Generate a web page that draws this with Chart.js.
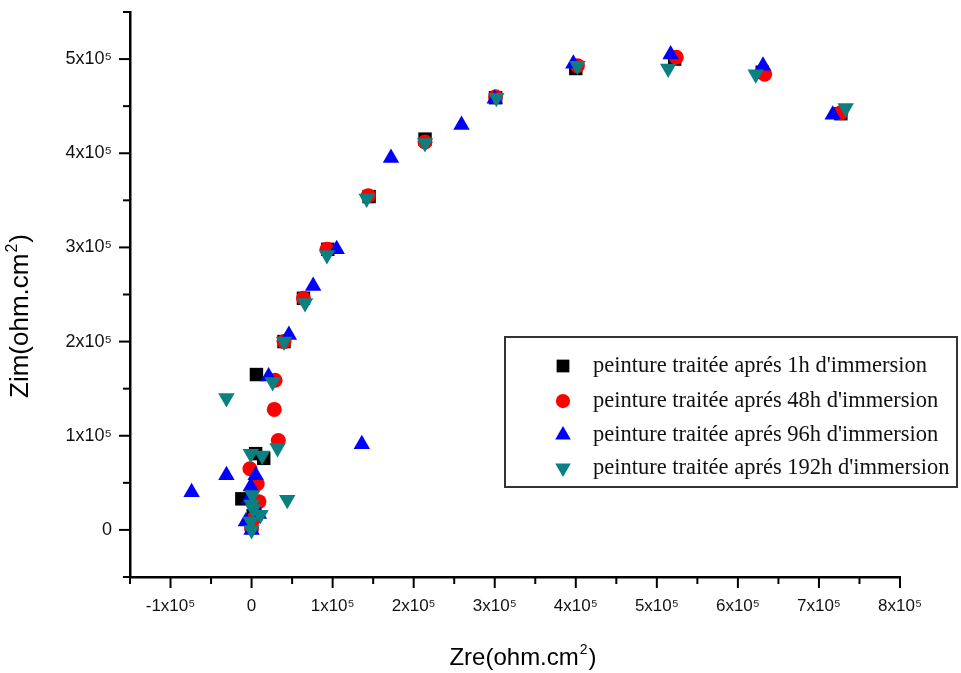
<!DOCTYPE html>
<html>
<head>
<meta charset="utf-8">
<script src="https://cdn.jsdelivr.net/npm/chart.js@4.4.1/dist/chart.umd.min.js"></script>
<style>
  html, body { margin: 0; padding: 0; background: #fff; }
  #wrap { width: 961px; height: 673px; position: relative; }
</style>
</head>
<body>
<div id="wrap"><canvas id="c" width="961" height="673"></canvas></div>
<script>
// Values in units of 1e5 ohm.cm^2
const seriesLabels = [
  "peinture traitée aprés 1h d'immersion",
  "peinture traitée aprés 48h d'immersion",
  "peinture traitée aprés 96h d'immersion",
  "peinture traitée aprés 192h d'immersion"
];
const zre1h  = [0.00, 0.02, -0.12, 0.05, 0.15, 0.06, 0.40, 0.64, 0.94, 1.45, 2.14, 3.01, 4.00, 5.22, 6.30, 7.27];
const zim1h  = [0.05, 0.15, 0.33, 0.81, 0.76, 1.65, 2.00, 2.46, 2.98, 3.54, 4.15, 4.59, 4.90, 5.00, 4.86, 4.42];
const zre48  = [0.00, 0.03, 0.09, 0.07, -0.02, 0.33, 0.28, 0.29, 0.40, 0.64, 0.93, 1.44, 2.14, 3.01, 4.02, 5.24, 6.33, 7.27];
const zim48  = [0.02, 0.12, 0.30, 0.49, 0.65, 0.95, 1.28, 1.59, 2.00, 2.46, 2.98, 3.55, 4.12, 4.60, 4.93, 5.02, 4.84, 4.43];
const zre96  = [0.00, -0.07, 0.09, -0.03, -0.01, 0.05, -0.31, -0.74, 1.36, 0.21, 0.46, 0.76, 1.05, 1.72, 2.59, 3.00, 3.97, 5.17, 6.31, 7.17];
const zim96  = [0.00, 0.09, 0.17, 0.33, 0.46, 0.58, 0.58, 0.40, 0.91, 1.63, 2.07, 2.59, 2.98, 3.95, 4.30, 4.58, 4.95, 5.05, 4.93, 4.41];
const zre192 = [0.00, -0.01, 0.02, 0.00, 0.11, 0.01, 0.44, -0.01, 0.13, 0.32, -0.31, 0.26, 0.40, 0.66, 0.93, 1.42, 2.14, 3.02, 4.02, 5.14, 6.22, 7.33];
const zim192 = [0.00, 0.09, 0.22, 0.27, 0.16, 0.37, 0.32, 0.81, 0.79, 0.87, 1.40, 1.57, 2.00, 2.41, 2.92, 3.52, 4.11, 4.59, 4.93, 4.90, 4.84, 4.48];
const xTickValues = [-1, 0, 1, 2, 3, 4, 5, 6, 7, 8];
const yTickValues = [0, 1, 2, 3, 4, 5];
const xTitle = ['Zre(ohm.cm', '2', ')'];
const yTitle = ['Zim(ohm.cm', '2', ')'];
const colors = ['#000000', '#ff0000', '#0000ff', '#0b8080'];

const UNIT = 1e5;
function pts(xs, ys) { return xs.map((x, i) => ({ x: x * UNIT, y: ys[i] * UNIT })); }
function tickLabel(v) {
  const n = Math.round(v / UNIT * 100) / 100;
  if (n === 0) return '0';
  return n + 'x10\u2075';
}

const styles = [
  { pointStyle: 'rect', rotation: 0, radius: 9.5 },
  { pointStyle: 'circle', rotation: 0, radius: 7.5 },
  { pointStyle: 'triangle', rotation: 0, radius: 9.5 },
  { pointStyle: 'triangle', rotation: 180, radius: 9.5 }
];
const allData = [pts(zre1h, zim1h), pts(zre48, zim48), pts(zre96, zim96), pts(zre192, zim192)];

const datasets = allData.map((d, i) => ({
  label: seriesLabels[i],
  data: d,
  showLine: false,
  backgroundColor: colors[i],
  borderColor: colors[i],
  borderWidth: 0,
  pointStyle: styles[i].pointStyle,
  pointRotation: styles[i].rotation,
  pointRadius: styles[i].radius,
  pointHoverRadius: styles[i].radius,
  order: 4 - i
}));

function drawMarker(ctx, style, rot, x, y, r, color) {
  ctx.save();
  ctx.fillStyle = color;
  ctx.beginPath();
  if (style === 'circle') {
    ctx.arc(x, y, r, 0, Math.PI * 2);
  } else if (style === 'rect') {
    const s = Math.SQRT1_2 * r;
    ctx.rect(x - s, y - s, 2 * s, 2 * s);
  } else if (style === 'triangle') {
    let rad = rot * Math.PI / 180;
    ctx.moveTo(x + Math.sin(rad) * r, y - Math.cos(rad) * r);
    rad += 2 * Math.PI / 3;
    ctx.lineTo(x + Math.sin(rad) * r, y - Math.cos(rad) * r);
    rad += 2 * Math.PI / 3;
    ctx.lineTo(x + Math.sin(rad) * r, y - Math.cos(rad) * r);
    ctx.closePath();
  }
  ctx.fill();
  ctx.restore();
}

function drawSupTitle(ctx, parts, size) {
  const big = size + 'px "Liberation Sans", Arial, sans-serif';
  const small = Math.round(size * 0.6) + 'px "Liberation Sans", Arial, sans-serif';
  ctx.font = big;
  const w0 = ctx.measureText(parts[0]).width;
  const w2 = ctx.measureText(parts[2]).width;
  ctx.font = small;
  const w1 = ctx.measureText(parts[1]).width + 2;
  const total = w0 + w1 + w2;
  let x = -total / 2;
  ctx.textAlign = 'left';
  ctx.textBaseline = 'alphabetic';
  const base = size * 0.36;
  ctx.font = big;
  ctx.fillText(parts[0], x, base);
  x += w0 + 1;
  ctx.font = small;
  ctx.fillText(parts[1], x, base - size * 0.45);
  x += w1 - 1;
  ctx.font = big;
  ctx.fillText(parts[2], x, base);
}

function halfSteps(s) {
  const out = [];
  for (let v = s.min; v <= s.max + 1; v += 0.5 * UNIT) out.push(v);
  return out;
}

const decor = {
  id: 'decor',
  afterDraw(chart) {
    const ctx = chart.ctx;
    const xs = chart.scales.x, ys = chart.scales.y;
    ctx.save();
    ctx.strokeStyle = '#000';
    ctx.lineWidth = 2;
    halfSteps(xs).forEach(v => {
      const px = xs.getPixelForValue(v);
      const major = Math.abs(v % UNIT) < 1;
      ctx.beginPath();
      ctx.moveTo(px, xs.top);
      ctx.lineTo(px, xs.top + (major ? 11 : 7));
      ctx.stroke();
    });
    halfSteps(ys).forEach(v => {
      const py = ys.getPixelForValue(v);
      const major = Math.abs(v % UNIT) < 1;
      ctx.beginPath();
      ctx.moveTo(ys.right, py);
      ctx.lineTo(ys.right - (major ? 11 : 7), py);
      ctx.stroke();
    });
    ctx.restore();

    ctx.save();
    ctx.fillStyle = '#000';
    ctx.translate(19, 316);
    ctx.rotate(-Math.PI / 2);
    drawSupTitle(ctx, yTitle, 26);
    ctx.restore();

    ctx.save();
    ctx.fillStyle = '#000';
    ctx.translate((xs.left + xs.right) / 2 + 8, 656);
    drawSupTitle(ctx, xTitle, 24);
    ctx.restore();

    ctx.save();
    ctx.strokeStyle = '#333';
    ctx.lineWidth = 2;
    ctx.fillStyle = '#fff';
    ctx.fillRect(505, 337, 452, 150);
    ctx.strokeRect(505, 337, 452, 150);
    ctx.font = '22.5px "Liberation Serif", "Times New Roman", serif';
    ctx.textAlign = 'left';
    ctx.textBaseline = 'middle';
    const rows = [366, 401, 435, 468];
    chart.data.datasets.forEach((ds, i) => {
      drawMarker(ctx, ds.pointStyle, ds.pointRotation, 563, rows[i], ds.pointRadius * 0.95, ds.backgroundColor);
      ctx.fillStyle = '#111';
      ctx.fillText(ds.label, 593, rows[i]);
    });
    ctx.restore();
  }
};

new Chart(document.getElementById('c'), {
  type: 'scatter',
  data: { datasets },
  options: {
    responsive: false,
    animation: false,
    events: [],
    layout: { padding: { top: 12, right: 61, left: 0, bottom: 0 } },
    plugins: { legend: { display: false }, tooltip: { enabled: false } },
    scales: {
      x: {
        type: 'linear',
        min: -1.5 * UNIT,
        max: 8 * UNIT,
        afterFit(s) { s.height = 96; s.paddingLeft = 0; s.paddingRight = 0; },
        afterBuildTicks(s) {
          s.ticks = xTickValues.map(v => ({ value: v * UNIT }));
        },
        ticks: {
          autoSkip: false,
          maxRotation: 0,
          padding: 8,
          color: '#111',
          font: { family: '"Liberation Sans", Arial, sans-serif', size: 17 },
          callback(v) { return tickLabel(v); }
        },
        grid: { drawOnChartArea: false, drawTicks: true, tickLength: 11, tickColor: 'rgba(0,0,0,0)' },
        border: { display: true, color: '#000', width: 2.5 },
        title: { display: false }
      },
      y: {
        type: 'linear',
        min: -0.5 * UNIT,
        max: 5.5 * UNIT,
        afterFit(s) { s.width = 130; s.paddingTop = 0; s.paddingBottom = 0; },
        afterBuildTicks(s) {
          s.ticks = yTickValues.map(v => ({ value: v * UNIT }));
        },
        ticks: {
          autoSkip: false,
          padding: 7,
          color: '#111',
          font: { family: '"Liberation Sans", Arial, sans-serif', size: 18 },
          callback(v) { return tickLabel(v); }
        },
        grid: { drawOnChartArea: false, drawTicks: true, tickLength: 11, tickColor: 'rgba(0,0,0,0)' },
        border: { display: true, color: '#000', width: 2.5 },
        title: { display: false }
      }
    }
  },
  plugins: [decor]
});
</script>
</body>
</html>
